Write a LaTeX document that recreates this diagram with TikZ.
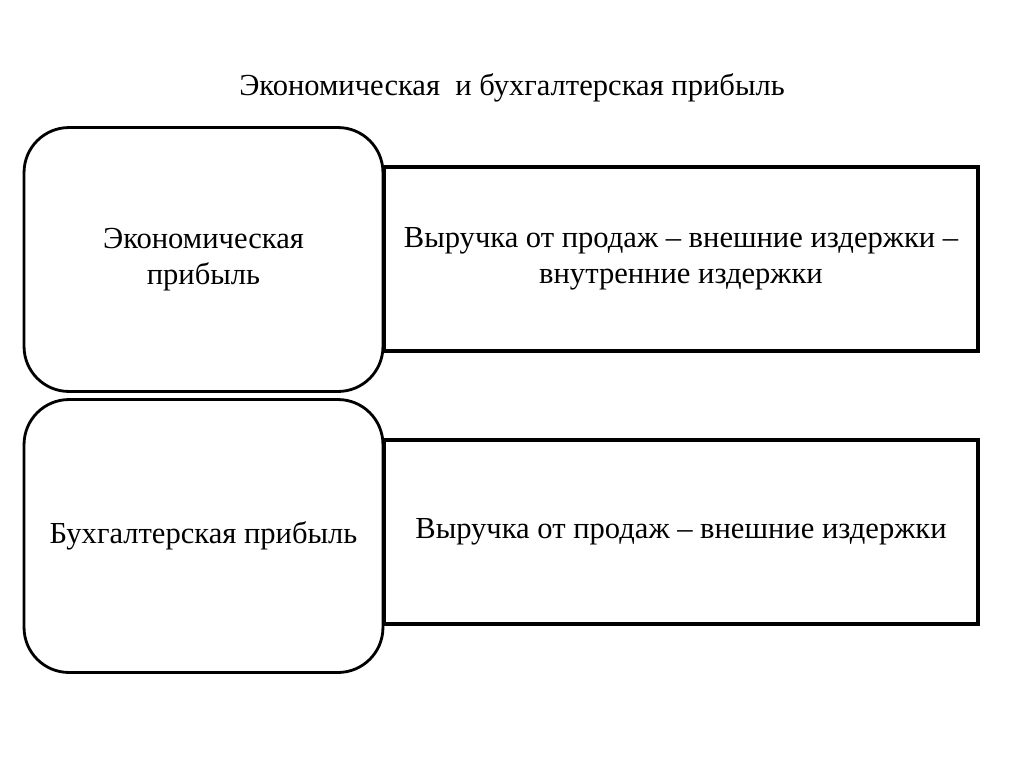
\documentclass[tikz,border=0pt]{standalone}
\usepackage{fontspec}
\setmainfont{Liberation Serif}
\usetikzlibrary{positioning, calc}
\tikzset{
	roundbox/.style={rectangle, draw, line width=1.6pt, rounded corners=0.9cm, minimum width=7.18cm, align=center, fill=white},
	formulabox/.style={rectangle, draw, line width=1.8pt, minimum width=11.88cm, minimum height=3.68cm, align=center},
	txt/.style={font=\fontsize{17.4}{20.8}\selectfont}
}

\begin{document}
\begin{tikzpicture}[x=0.02cm, y=-0.02cm]
	\useasboundingbox (0,0) rectangle (1024,768);
	
	% Title
	\node[txt] (title) at (512,88) {Экономическая\ \ и бухгалтерская прибыль};
	
	% Formula boxes (right)
	\node[formulabox, txt] (econ_formula) at (681,259) {Выручка от продаж -- внешние издержки --\\внутренние издержки};
	\node[formulabox, txt] (acc_formula) at (681,532) {Выручка от продаж -- внешние издержки};
	
	% Rounded boxes (left)
	\node[roundbox, txt, minimum height=5.28cm] (econ_profit) at (203.5,259.5) {Экономическая\\прибыль};
	\node[roundbox, txt, minimum height=5.46cm] (acc_profit) at (203.5,536) {Бухгалтерская прибыль};
	
\end{tikzpicture}
\end{document}
